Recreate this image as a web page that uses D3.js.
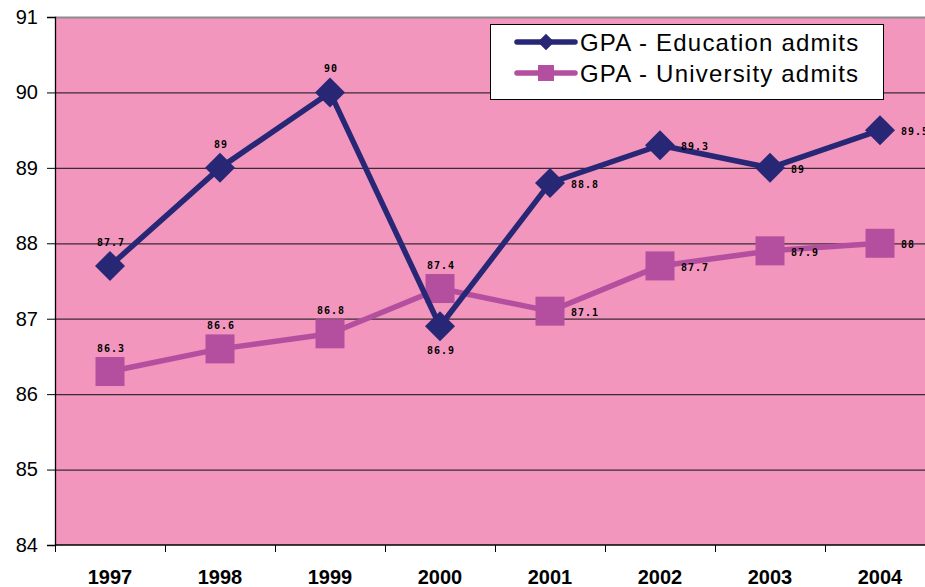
<!doctype html>
<html lang="en">
<head>
<meta charset="UTF-8">
<title>GPA admits</title>
<script src="https://d3js.org/d3.v7.min.js"></script>
<style>
  body { margin: 0; background: #fff; }
  .ytick text { font: 20px 'Liberation Sans', Arial, sans-serif; }
  .xtick text { font: bold 20px 'Liberation Sans', Arial, sans-serif; }
  .lbl { font: bold 10px 'DejaVu Sans Mono', monospace; letter-spacing: 1px; }
  .legend text { font: 24px 'Liberation Sans', Arial, sans-serif; letter-spacing: 1.2px; }
</style>
</head>
<body>
<script>
// data
const years = ['1997', '1998', '1999', '2000', '2001', '2002', '2003', '2004'];
const eduGPA = [87.7, 89, 90, 86.9, 88.8, 89.3, 89, 89.5];
const uniGPA = [86.3, 86.6, 86.8, 87.4, 87.1, 87.7, 87.9, 88];
const yTicks = [84, 85, 86, 87, 88, 89, 90, 91];
// where each value label sits: t = above, b = below, r = right
const eduLabelPos = ['t', 't', 't', 'b', 'r', 'r', 'r', 'r'];
const uniLabelPos = ['t', 't', 't', 't', 'r', 'r', 'r', 'r'];

const width = 925, height = 587;
const plotLeft = 55, plotTop = 17, plotBottom = 545;

const svg = d3.select('body').append('svg')
    .attr('width', width)
    .attr('height', height);

const x = d3.scaleBand()
    .domain(years)
    .range([plotLeft, plotLeft + 110 * years.length]);

const y = d3.scaleLinear()
    .domain([84, 91])
    .range([plotBottom, plotTop]);

const cx = d => x(d) + x.bandwidth() / 2;

// plot background
svg.append('rect')
    .attr('x', plotLeft).attr('y', plotTop)
    .attr('width', width - plotLeft).attr('height', plotBottom - plotTop)
    .attr('fill', '#f296be');

// gridlines
svg.selectAll('.grid')
    .data(yTicks.slice(1))
    .enter().append('line')
    .attr('x1', plotLeft).attr('x2', width)
    .attr('y1', d => y(d) + 0.5).attr('y2', d => y(d) + 0.5)
    .attr('stroke', d => d === 91 ? '#8c8c8c' : '#3a2a35')
    .attr('stroke-width', d => d === 91 ? 2 : 1.2);

// y axis
const yAxis = svg.append('g')
    .attr('class', 'ytick')
    .attr('transform', `translate(${plotLeft},0)`)
    .call(d3.axisLeft(y).tickValues(yTicks).tickSize(8).tickPadding(9).tickFormat(d3.format('d')));
yAxis.select('.domain').attr('stroke', '#000').attr('stroke-width', 1.3);
yAxis.selectAll('line').attr('stroke', '#000');
yAxis.selectAll('text').attr('fill', '#000');

// x axis
const xAxis = svg.append('g')
    .attr('class', 'xtick')
    .attr('transform', `translate(0,${plotBottom})`)
    .call(d3.axisBottom(x).tickSize(0).tickPadding(0));
xAxis.select('.domain').remove();
xAxis.append('line')
    .attr('x1', plotLeft).attr('x2', width)
    .attr('stroke', '#000').attr('stroke-width', 1.5);
xAxis.selectAll('.bound')
    .data(years)
    .enter().append('line')
    .attr('x1', d => x(d) + 0.5).attr('x2', d => x(d) + 0.5)
    .attr('y1', 0).attr('y2', 7)
    .attr('stroke', '#000');
xAxis.selectAll('.tick text')
    .attr('fill', '#000')
    .attr('dy', 0)
    .attr('y', 39);

const line = d3.line()
    .x((d, i) => cx(years[i]))
    .y(d => y(d));

const series = [
  {values: uniGPA, color: '#b44f9f', shape: 'square', pos: uniLabelPos},
  {values: eduGPA, color: '#272776', shape: 'diamond', pos: eduLabelPos}
];

function marker(g, shape, color) {
  if (shape === 'diamond') {
    g.append('path').attr('d', 'M0,-15L15,0L0,15L-15,0Z').attr('fill', color);
  } else {
    g.append('rect').attr('x', -14.5).attr('y', -14.5)
      .attr('width', 29).attr('height', 29).attr('fill', color);
  }
}

series.forEach(s => {
  svg.append('path')
    .datum(s.values)
    .attr('d', line)
    .attr('fill', 'none')
    .attr('stroke', s.color)
    .attr('stroke-width', 5.5)
    .attr('stroke-linejoin', 'round');

  s.values.forEach((v, i) => {
    const g = svg.append('g').attr('transform', `translate(${cx(years[i])},${y(v)})`);
    marker(g, s.shape, s.color);
  });
});

series.forEach(s => {
  s.values.forEach((v, i) => {
    const p = s.pos[i];
    svg.append('text')
      .attr('class', 'lbl')
      .attr('x', cx(years[i]) + (p === 'r' ? 21 : 1))
      .attr('y', y(v) + (p === 't' ? -20 : p === 'b' ? 28 : 5))
      .attr('text-anchor', p === 'r' ? 'start' : 'middle')
      .attr('fill', '#000')
      .text(v);
  });
});

// legend
const legend = svg.append('g').attr('class', 'legend');
legend.append('rect')
    .attr('x', 490.5).attr('y', 24.5)
    .attr('width', 393).attr('height', 75)
    .attr('fill', '#fff').attr('stroke', '#000').attr('stroke-width', 1);
const legendItems = [
  {name: 'GPA - Education admits', s: series[1]},
  {name: 'GPA - University admits', s: series[0]}
];
legendItems.forEach((d, i) => {
  const ly = 42 + i * 31;
  legend.append('line')
    .attr('x1', 517).attr('x2', 575)
    .attr('y1', ly).attr('y2', ly)
    .attr('stroke', d.s.color).attr('stroke-width', 5.5)
    .attr('stroke-linecap', 'round');
  const g = legend.append('g').attr('transform', `translate(546,${ly}) scale(0.55)`);
  marker(g, d.s.shape, d.s.color);
  legend.append('text')
    .attr('x', 580).attr('y', ly + 9)
    .attr('fill', '#000')
    .text(d.name);
});
</script>
</body>
</html>
